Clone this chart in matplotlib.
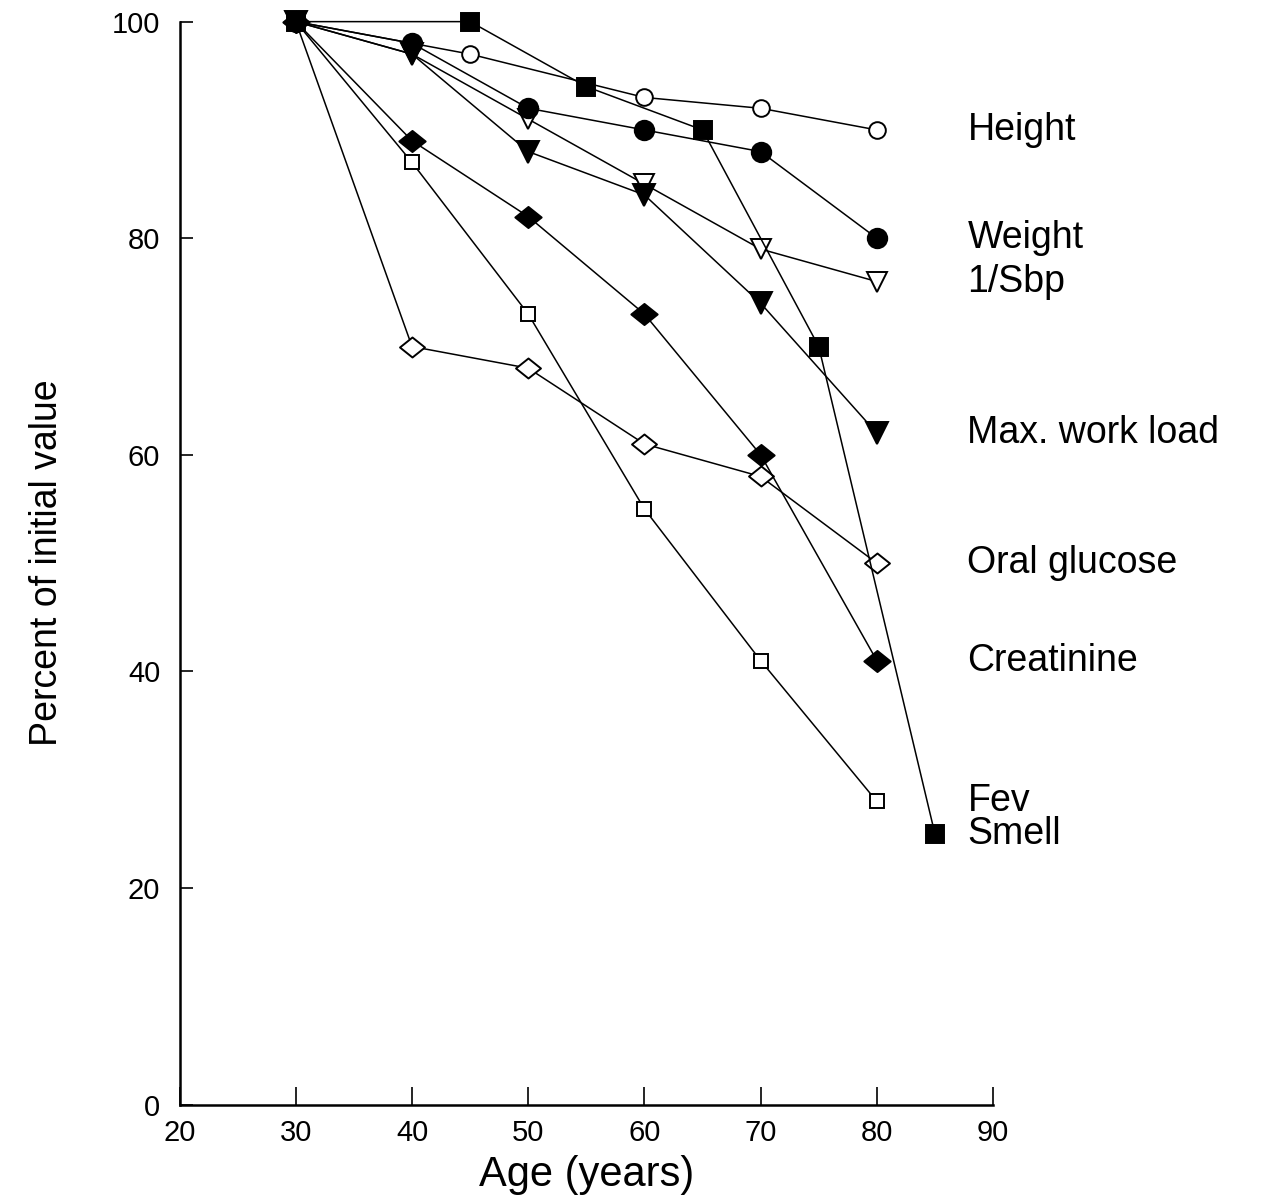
import matplotlib
matplotlib.use("Agg")
from matplotlib import pyplot as plt
from matplotlib.path import Path

plt.rcParams['font.family'] = ['Liberation Sans', 'DejaVu Sans']

# percent of initial value by age, one list pair per measure
height_age = [30, 45, 60, 70, 80]
height_val = [100, 97, 93, 92, 90]

weight_age = [30, 40, 50, 60, 70, 80]
weight_val = [100, 98, 92, 90, 88, 80]

sbp_age = [30, 40, 50, 60, 70, 80]
sbp_val = [100, 97, 91, 85, 79, 76]

work_age = [30, 40, 50, 60, 70, 80]
work_val = [100, 97, 88, 84, 74, 62]

glucose_age = [30, 40, 50, 60, 70, 80]
glucose_val = [100, 70, 68, 61, 58, 50]

creat_age = [30, 40, 50, 60, 70, 80]
creat_val = [100, 89, 82, 73, 60, 41]

fev_age = [30, 40, 50, 60, 70, 80]
fev_val = [100, 87, 73, 55, 41, 28]

smell_age = [30, 45, 55, 65, 75, 85]
smell_val = [100, 100, 94, 90, 70, 25]

# squashed diamond, a bit wider than tall
diamond = Path([(-1, 0), (0, 0.8), (1, 0), (0, -0.8), (-1, 0)],
               [Path.MOVETO, Path.LINETO, Path.LINETO, Path.LINETO, Path.CLOSEPOLY])

series = [
    ("Height", height_age, height_val, 'o', 'white', 12, 2),
    ("Weight", weight_age, weight_val, 'o', 'black', 14, 4),
    ("1/Sbp", sbp_age, sbp_val, 'v', 'white', 15, 2),
    ("Max. work load", work_age, work_val, 'v', 'black', 16, 2),
    ("Oral glucose", glucose_age, glucose_val, diamond, 'white', 18, 2),
    ("Creatinine", creat_age, creat_val, diamond, 'black', 19, 2),
    ("Fev", fev_age, fev_val, 's', 'white', 10, 2),
    ("Smell", smell_age, smell_val, 's', 'black', 13, 2),
]

fig = plt.figure(figsize=(12.65, 12.02), dpi=100)
ax = fig.add_axes([0.142, 0.081, 0.643, 0.901])

for name, x, y, m, fc, ms, z in series:
    ax.plot(x, y, '-', color='black', lw=1.1, marker=m, ms=ms,
            mfc=fc, mec='black', mew=1.4, clip_on=False, zorder=z)
    ax.text(87.8, y[-1], name, fontsize=27, va='center', ha='left')

ax.set_xlim(20, 90)
ax.set_ylim(0, 100)
ax.set_xticks(range(20, 91, 10))
ax.set_yticks(range(0, 101, 20))
ax.tick_params(axis='x', direction='in', length=13, width=1.2, labelsize=21, pad=10)
ax.tick_params(axis='y', direction='in', length=9, width=1.2, labelsize=21, pad=14)
for s in ('top', 'right'):
    ax.spines[s].set_visible(False)
for s in ('left', 'bottom'):
    ax.spines[s].set_linewidth(1.8)

ax.set_xlabel("Age (years)", fontsize=30, labelpad=6)
ax.set_ylabel("Percent of initial value", fontsize=27, labelpad=34)

fig.savefig("out.png", dpi=100)
